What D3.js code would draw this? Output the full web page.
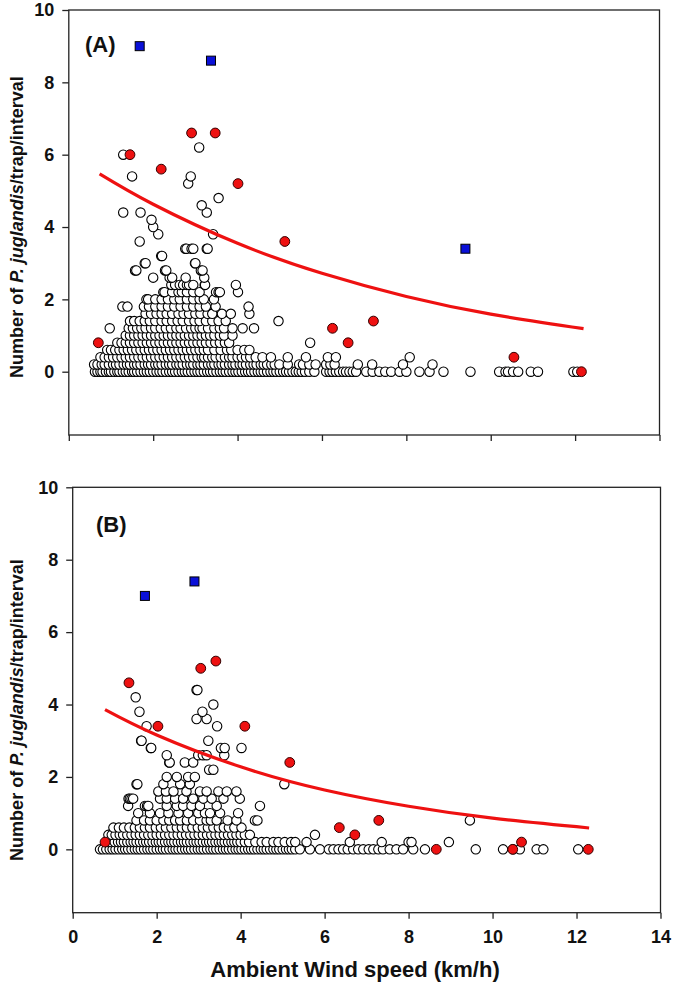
<!DOCTYPE html>
<html><head><meta charset="utf-8">
<script src="https://cdn.jsdelivr.net/npm/d3@7"></script>
<style>
html,body{margin:0;padding:0;background:#fff;}
svg{display:block;font-family:"Liberation Sans",Arial,sans-serif;}
</style></head>
<body><svg id="c" width="681" height="988"></svg>
<script>
// ---------- DATA ----------
const xTicks = [0, 2, 4, 6, 8, 10, 12, 14];
const yTicks = [0, 2, 4, 6, 8, 10];
const xTitle = "Ambient Wind speed (km/h)";
const panelLabels = ["(A)", "(B)"];

// Panel A open circles: y level and the x values found at that level
const openA_levels = [0, 0.2, 0.4, 0.6, 0.8, 1.0, 1.2, 1.4, 1.6, 1.8, 2.0, 2.2, 2.4, 2.6, 2.8, 3.0, 3.2, 3.4, 3.6, 3.8, 4.0, 4.2, 4.4, 4.6, 4.8, 5.2, 5.4, 6.0, 6.2];
const openA_x = [
  [0.62,0.68,0.75,0.8,0.88,0.95,1.0,1.08,1.15,1.2,1.28,1.35,1.42,1.5,1.55,1.62,1.7,1.78,1.85,1.92,2.0,2.08,2.15,2.22,2.3,2.38,2.45,2.52,2.6,2.68,2.75,2.82,2.9,2.98,3.05,3.12,3.2,3.28,3.35,3.42,3.5,3.58,3.65,3.72,3.8,3.88,3.95,4.02,4.1,4.18,4.25,4.32,4.4,4.48,4.55,4.62,4.7,4.78,4.85,4.92,5.0,5.08,5.15,5.22,5.3,5.38,5.45,5.52,5.6,5.7,5.82,6.1,6.18,6.25,6.33,6.41,6.5,6.57,6.65,6.73,6.81,7.05,7.2,7.36,7.5,7.64,7.84,8.0,8.31,8.55,8.88,9.52,10.2,10.35,10.41,10.53,10.65,10.95,11.12,11.96,12.05],
  [0.6,0.68,0.78,0.85,0.95,1.05,1.12,1.2,1.3,1.38,1.45,1.55,1.62,1.7,1.8,1.88,1.95,2.05,2.12,2.2,2.3,2.38,2.45,2.55,2.62,2.7,2.8,2.88,2.95,3.05,3.12,3.2,3.3,3.38,3.45,3.55,3.62,3.7,3.8,3.88,3.95,4.05,4.12,4.2,4.3,4.38,4.45,4.55,4.62,4.7,4.8,4.88,4.99,5.19,5.46,5.55,5.7,5.85,6.1,6.2,6.3,6.85,7.19,7.92,8.62],
  [0.75,0.85,0.95,1.05,1.15,1.25,1.35,1.45,1.55,1.65,1.75,1.85,1.95,2.05,2.15,2.25,2.35,2.45,2.55,2.65,2.75,2.85,2.95,3.05,3.15,3.21,3.3,3.4,3.48,3.6,3.7,3.8,3.88,4.0,4.1,4.2,4.3,4.43,4.59,4.79,5.19,5.62,6.14,6.33,8.08],
  [0.91,1.0,1.1,1.2,1.3,1.4,1.5,1.6,1.7,1.8,1.9,2.0,2.1,2.2,2.3,2.4,2.5,2.6,2.7,2.8,2.9,3.0,3.1,3.2,3.3,3.45,3.6,3.75,3.85,4.0,4.16,4.28],
  [1.15,1.25,1.35,1.45,1.55,1.65,1.75,1.85,1.95,2.05,2.15,2.25,2.35,2.45,2.55,2.65,2.75,2.85,2.95,3.05,3.15,3.25,3.36,3.47,3.58,3.7,3.8,5.72],
  [1.35,1.45,1.55,1.65,1.75,1.85,1.95,2.05,2.15,2.25,2.35,2.45,2.55,2.65,2.75,2.85,2.95,3.05,3.15,3.25,3.35,3.45,3.58,3.68,3.88],
  [0.97,1.42,1.52,1.62,1.72,1.82,1.95,2.05,2.18,2.3,2.42,2.55,2.65,2.78,2.9,3.0,3.1,3.17,3.3,3.45,3.58,3.68,3.88,4.12,4.39],
  [1.45,1.55,1.68,1.8,1.92,2.05,2.2,2.32,2.45,2.58,2.7,2.85,2.98,3.1,3.25,3.4,3.55,3.72,4.97],
  [1.82,1.95,2.08,2.2,2.32,2.45,2.6,2.72,2.85,3.0,3.12,3.29,3.4,3.63,3.84,4.28],
  [1.27,1.39,1.78,1.9,2.05,2.2,2.35,2.5,2.65,2.8,2.95,3.1,3.25,3.48,4.26],
  [1.84,1.88,2.05,2.2,2.35,2.5,2.63,2.8,2.95,3.1,3.2,3.44],
  [2.24,2.27,2.45,2.6,2.68,2.8,2.95,3.1,3.49,3.55,3.58,4.01],
  [2.43,2.52,2.63,2.71,2.8,2.85,2.95,3.22,3.23,3.96],
  [2.0,2.39,2.45,2.77,3.21],
  [1.57,1.6,2.28,2.31,3.13,3.17],
  [1.8,1.82,2.99,3.0],
  [2.19,2.21],
  [2.76,2.79,2.91,2.95,3.27,3.29],
  [1.68],
  [2.12,3.42],
  [2.0],
  [1.96],
  [1.29,1.70,3.27],
  [3.15],
  [3.55],
  [2.83],
  [1.5,2.89],
  [1.29],
  [3.09]
];
const redA_x = [0.7, 1.45, 2.19, 2.91, 3.47, 4.01, 5.12, 6.25, 6.62, 7.22, 10.55, 12.15];
const redA_y = [0.8, 6.0, 5.6, 6.6, 6.6, 5.2, 3.6, 1.2, 0.8, 1.4, 0.4, 0];
const blueA_x = [1.68, 3.37, 9.4];
const blueA_y = [9.0, 8.6, 3.4];
const curveA_x = [0.73, 2, 4, 6, 8, 10, 12.2];
const curveA_y = [5.47, 4.63, 3.55, 2.72, 2.08, 1.59, 1.19];

// Panel B
const openB_levels = [0, 0.2, 0.4, 0.6, 0.8, 1.0, 1.2, 1.4, 1.6, 1.8, 2.0, 2.2, 2.4, 2.6, 2.8, 3.0, 3.4, 3.6, 3.8, 4.0, 4.2, 4.4];
const openB_x = [
  [0.65,0.72,0.8,0.88,0.95,1.02,1.1,1.18,1.25,1.32,1.4,1.48,1.55,1.62,1.7,1.78,1.85,1.92,2.0,2.08,2.15,2.22,2.3,2.38,2.45,2.52,2.6,2.68,2.75,2.82,2.9,2.98,3.05,3.12,3.2,3.28,3.35,3.42,3.5,3.58,3.65,3.72,3.8,3.88,3.95,4.02,4.1,4.18,4.25,4.32,4.4,4.48,4.55,4.62,4.7,4.78,4.85,4.92,5.0,5.08,5.15,5.22,5.3,5.41,5.65,5.89,6.1,6.21,6.33,6.44,6.55,6.68,6.8,6.92,7.05,7.16,7.28,7.39,7.55,7.71,7.87,8.11,8.39,9.6,10.25,10.49,10.65,11.05,11.21,12.04],
  [0.85,0.92,1.0,1.08,1.15,1.22,1.3,1.38,1.45,1.52,1.6,1.68,1.75,1.82,1.9,1.98,2.05,2.12,2.2,2.28,2.35,2.42,2.5,2.58,2.65,2.72,2.8,2.88,2.95,3.02,3.1,3.18,3.25,3.32,3.4,3.48,3.55,3.62,3.7,3.78,3.85,3.92,4.0,4.1,4.2,4.35,4.5,4.62,4.78,4.9,5.05,5.2,5.3,5.57,6.6,7.36,8.0,8.07,8.96],
  [0.85,0.93,1.02,1.12,1.2,1.3,1.4,1.5,1.6,1.7,1.8,1.9,2.0,2.1,2.2,2.3,2.4,2.5,2.6,2.7,2.8,2.9,3.0,3.1,3.2,3.3,3.4,3.5,3.6,3.7,3.8,3.9,4.0,4.1,4.22,5.77],
  [0.97,1.1,1.22,1.35,1.48,1.6,1.72,1.84,1.98,2.1,2.22,2.35,2.48,2.6,2.72,2.85,2.98,3.1,3.22,3.35,3.48,3.6,3.72,3.85,4.02],
  [1.52,1.7,1.84,2.0,2.16,2.3,2.44,2.56,2.72,2.87,3.03,3.19,3.29,3.43,3.69,3.9,4.34,4.4,9.46],
  [1.56,1.84,2.08,2.28,2.52,2.75,2.99,3.15,3.27,3.51,3.94],
  [1.32,1.72,1.77,1.8,2.24,2.48,2.63,2.83,3.03,3.43,4.46],
  [1.33,1.36,1.4,1.44,2.08,2.24,2.44,2.63,2.87,3.11,3.31,3.59,3.98],
  [2.04,2.22,2.4,2.71,3.03,3.19,3.47,3.67,3.9],
  [1.52,1.54,2.16,2.56,2.79,5.04],
  [2.24,2.48,2.75,2.91],
  [3.25,3.35],
  [2.3,2.31,2.67,2.87],
  [2.24,2.99,3.1,3.19,3.61],
  [1.86,1.87,3.53,3.62,4.02],
  [1.63,1.64,3.23],
  [1.76,3.44],
  [2.95,3.19],
  [1.59,3.09],
  [3.35],
  [1.5],
  [2.95,2.97]
];
const redB_x = [0.77, 1.34, 2.03, 3.05, 3.41, 4.1, 5.17, 6.35, 6.72, 7.29, 8.66, 10.48, 10.69, 12.28];
const redB_y = [0.2, 4.6, 3.4, 5.0, 5.2, 3.4, 2.4, 0.6, 0.4, 0.8, 0, 0, 0.2, 0];
const blueB_x = [1.72, 2.9];
const blueB_y = [7.0, 7.4];
const curveB_x = [0.77, 2, 4, 6, 8, 10, 12.3];
const curveB_y = [3.86, 3.16, 2.28, 1.64, 1.19, 0.86, 0.59];

// ---------- DRAW ----------
const svg = d3.select("#c");
const RED = "#ee1111", BLUE = "#0a10d8";

function panel(cfg) {
  const x = d3.scaleLinear().domain([0, 14]).range([cfg.left, cfg.right]);
  const y = d3.scaleLinear().domain([-1.75, 10]).range([cfg.bottom, cfg.top]);
  const g = svg.append("g");

  // frame
  g.append("rect").attr("x", cfg.left).attr("y", cfg.top)
    .attr("width", cfg.right - cfg.left).attr("height", cfg.bottom - cfg.top)
    .attr("fill", "none").attr("stroke", "#222").attr("stroke-width", 1.3);

  // y axis
  const ya = g.append("g").attr("transform", `translate(${cfg.left},0)`)
    .call(d3.axisLeft(y).tickValues(yTicks).tickSize(6.5).tickPadding(8).tickFormat(d3.format("d")));
  ya.select(".domain").remove();
  ya.selectAll("line").attr("stroke", "#222").attr("stroke-width", 1.3);
  ya.selectAll("text").attr("font-size", 18).attr("font-weight", "bold").attr("fill", "#111");

  // x axis
  const xa = g.append("g").attr("transform", `translate(0,${cfg.bottom})`)
    .call(d3.axisBottom(x).tickValues(xTicks).tickSize(6).tickPadding(12)
      .tickFormat(cfg.xLabels ? d3.format("d") : ""));
  xa.select(".domain").remove();
  xa.selectAll("line").attr("stroke", "#222").attr("stroke-width", 1.3);
  xa.selectAll("text").attr("font-size", 18).attr("font-weight", "bold").attr("fill", "#111");

  // open circles
  const pts = [];
  cfg.levels.forEach((lv, i) => cfg.openX[i].forEach(v => pts.push([v, lv])));
  g.append("g").selectAll("circle").data(pts).join("circle")
    .attr("cx", d => x(d[0])).attr("cy", d => y(d[1])).attr("r", 4.7)
    .attr("fill", "#fff").attr("stroke", "#000").attr("stroke-width", 1.1);

  // fitted curve
  const cpts = cfg.cx.map((v, i) => [v, cfg.cy[i]]);
  g.append("path").datum(cpts)
    .attr("d", d3.line().x(d => x(d[0])).y(d => y(d[1])).curve(d3.curveNatural))
    .attr("fill", "none").attr("stroke", RED).attr("stroke-width", 3.2);

  // red circles
  const rpts = cfg.rx.map((v, i) => [v, cfg.ry[i]]);
  g.append("g").selectAll("circle").data(rpts).join("circle")
    .attr("cx", d => x(d[0])).attr("cy", d => y(d[1])).attr("r", 4.9)
    .attr("fill", RED).attr("stroke", "#300").attr("stroke-width", 1);

  // blue squares
  const bpts = cfg.bx.map((v, i) => [v, cfg.by[i]]);
  g.append("g").selectAll("rect").data(bpts).join("rect")
    .attr("x", d => x(d[0]) - 4.5).attr("y", d => y(d[1]) - 4.5)
    .attr("width", 9).attr("height", 9)
    .attr("fill", BLUE).attr("stroke", "#000").attr("stroke-width", 1);

  // panel label
  g.append("text").attr("x", cfg.labX).attr("y", cfg.labY)
    .attr("font-size", 22).attr("font-weight", "bold").attr("fill", "#111").text(cfg.label);

  // y title
  const t = g.append("text").attr("transform", `translate(23,${cfg.titleY}) rotate(-90)`)
    .attr("text-anchor", "middle").attr("font-size", 18).attr("font-weight", "bold").attr("fill", "#111");
  t.append("tspan").text("Number of ");
  t.append("tspan").attr("font-style", "italic").text("P. juglandis");
  t.append("tspan").text("/trap/interval");
}

panel({left: 68.8, right: 659.5, top: 10, bottom: 435, xLabels: false,
  levels: openA_levels, openX: openA_x, rx: redA_x, ry: redA_y, bx: blueA_x, by: blueA_y,
  cx: curveA_x, cy: curveA_y, label: panelLabels[0], labX: 85, labY: 52, titleY: 227});
panel({left: 72.7, right: 660.5, top: 487.3, bottom: 912.7, xLabels: true,
  levels: openB_levels, openX: openB_x, rx: redB_x, ry: redB_y, bx: blueB_x, by: blueB_y,
  cx: curveB_x, cy: curveB_y, label: panelLabels[1], labX: 96, labY: 532, titleY: 710});

svg.append("text").attr("x", 355).attr("y", 977).attr("text-anchor", "middle")
  .attr("font-size", 22).attr("font-weight", "bold").attr("fill", "#111").text(xTitle);
</script></body></html>
